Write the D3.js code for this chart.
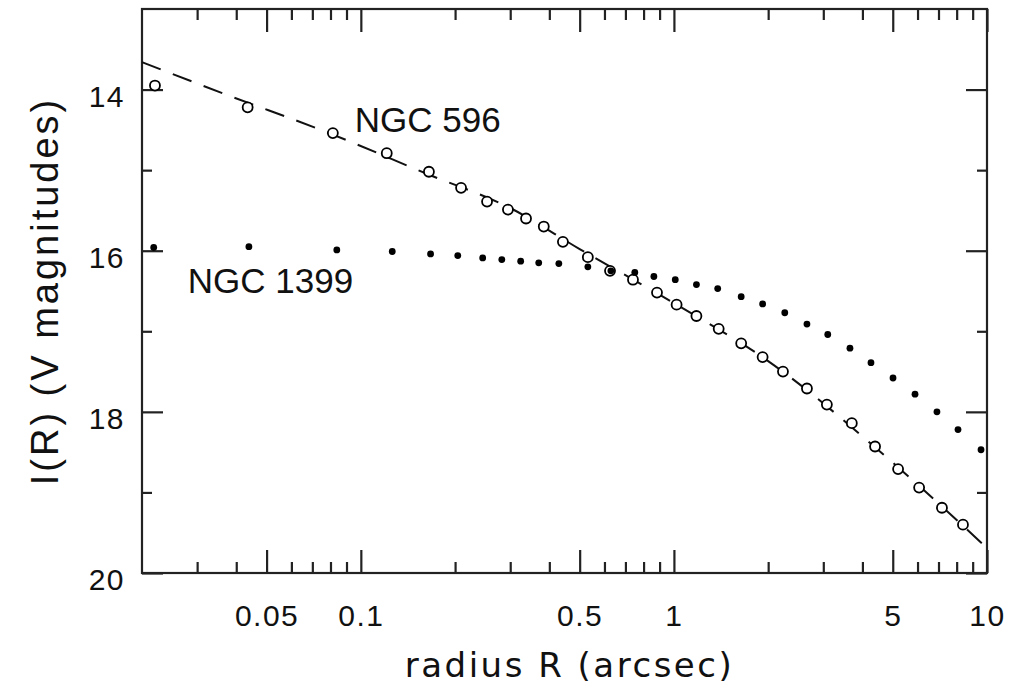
<!DOCTYPE html>
<html>
<head>
<meta charset="utf-8">
<script src="https://cdn.jsdelivr.net/npm/d3@7"></script>
<style>
  body { margin: 0; background: #fff; }
  svg text { font-family: "Liberation Sans", Arial, sans-serif; fill: #111; }
</style>
</head>
<body>
<script>
// tick values
const xMajor = [0.05, 0.1, 0.5, 1, 5, 10];
const xLabels = ["0.05", "0.1", "0.5", "1", "5", "10"];
const xMinor = [0.03, 0.04, 0.06, 0.07, 0.08, 0.09, 0.2, 0.3, 0.4, 0.6, 0.7, 0.8, 0.9, 2, 3, 4, 6, 7, 8, 9];
const yMajor = [14, 16, 18, 20];
const yMinor = [15, 17, 19];

// NGC 596 (open circles)
const r596 = [0.022, 0.0435, 0.0814, 0.121, 0.165, 0.209, 0.253, 0.295, 0.337, 0.384, 0.442, 0.531, 0.625, 0.740, 0.883,
  1.02, 1.18, 1.39, 1.64, 1.92, 2.23, 2.66, 3.08, 3.70, 4.39, 5.20, 6.07, 7.18, 8.38];
const mag596 = [13.95, 14.22, 14.54, 14.79, 15.02, 15.22, 15.39, 15.49, 15.60, 15.70, 15.89, 16.08, 16.25, 16.36, 16.52,
  16.67, 16.81, 16.97, 17.15, 17.32, 17.50, 17.71, 17.91, 18.14, 18.43, 18.71, 18.94, 19.19, 19.40];

// NGC 1399 (filled dots)
const r1399 = [0.0218, 0.0439, 0.0838, 0.126, 0.167, 0.204, 0.245, 0.282, 0.324, 0.370, 0.429, 0.531, 0.629, 0.750, 0.863,
  1.01, 1.18, 1.38, 1.64, 1.92, 2.26, 2.66, 3.10, 3.65, 4.26, 5.01, 5.89, 6.92, 8.08, 9.57];
const mag1399 = [15.96, 15.95, 15.99, 16.01, 16.04, 16.06, 16.09, 16.11, 16.13, 16.15, 16.16, 16.20, 16.25, 16.27, 16.32,
  16.36, 16.42, 16.47, 16.57, 16.66, 16.77, 16.91, 17.04, 17.21, 17.39, 17.58, 17.78, 18.00, 18.22, 18.47];

// dashed model curve for NGC 596
const rModel = [0.02, 0.0376, 0.078, 0.166, 0.3, 0.5, 1, 2, 5, 10];
const magModel = [13.66, 14.07, 14.53, 15.06, 15.47, 15.98, 16.65, 17.37, 18.63, 19.69];

const width = 1011, height = 691;
const plotLeft = 142, plotRight = 987, plotTop = 9, plotBottom = 573;

const svg = d3.select("body").append("svg")
  .attr("width", width).attr("height", height);

const x = d3.scaleLog().domain([0.02, 10]).range([plotLeft, plotRight]);
const y = d3.scaleLinear().domain([13, 20]).range([plotTop, plotBottom]);

const ink = "#222";

// ticks on all four sides
function ticks(axis, values, size, fmt) {
  return axis.tickValues(values).tickSizeInner(-size).tickSizeOuter(0).tickFormat(fmt || (() => ""));
}
function drawAxis(transform, axisGen) {
  const g = svg.append("g").attr("transform", transform).call(axisGen);
  g.select(".domain").remove();
  g.selectAll(".tick line").attr("stroke", ink).attr("stroke-width", 2.2);
  return g;
}

const xb = drawAxis(`translate(0,${plotBottom})`,
  ticks(d3.axisBottom(x), xMajor, 23, (d, i) => xLabels[i]).tickPadding(32));
xb.selectAll("text")
  .style("font-size", "30px").style("letter-spacing", "1.5px")
  .attr("fill", "#111");
drawAxis(`translate(0,${plotBottom})`, ticks(d3.axisBottom(x), xMinor, 11));
drawAxis(`translate(0,${plotTop})`, ticks(d3.axisTop(x), xMajor, 23));
drawAxis(`translate(0,${plotTop})`, ticks(d3.axisTop(x), xMinor, 11));

const yl = drawAxis(`translate(${plotLeft},0)`,
  ticks(d3.axisLeft(y), yMajor, 21, d => d).tickPadding(17));
yl.selectAll("text")
  .style("font-size", "30px").style("letter-spacing", "1.5px")
  .attr("dy", "0.55em").attr("fill", "#111");
drawAxis(`translate(${plotLeft},0)`, ticks(d3.axisLeft(y), yMinor, 10));
drawAxis(`translate(${plotRight},0)`, ticks(d3.axisRight(y), yMajor, 21));
drawAxis(`translate(${plotRight},0)`, ticks(d3.axisRight(y), yMinor, 10));

// frame
svg.append("rect")
  .attr("x", plotLeft).attr("y", plotTop)
  .attr("width", plotRight - plotLeft).attr("height", plotBottom - plotTop)
  .attr("fill", "none").attr("stroke", ink).attr("stroke-width", 2.2);

// model curve
const model = rModel.map((r, i) => [r, magModel[i]]);
svg.append("path")
  .attr("d", d3.line().x(d => x(d[0])).y(d => y(d[1])).curve(d3.curveMonotoneX)(model))
  .attr("fill", "none")
  .attr("stroke", "#111")
  .attr("stroke-width", 2)
  .attr("stroke-dasharray", "20,13");

// NGC 596 points
svg.selectAll(".dot596")
  .data(r596.map((r, i) => [r, mag596[i]]))
  .enter().append("circle")
  .attr("class", "dot596")
  .attr("cx", d => x(d[0]))
  .attr("cy", d => y(d[1]))
  .attr("r", 5)
  .attr("fill", "#fff")
  .attr("stroke", "#000")
  .attr("stroke-width", 1.8);

// NGC 1399 points
svg.selectAll(".dot1399")
  .data(r1399.map((r, i) => [r, mag1399[i]]))
  .enter().append("circle")
  .attr("class", "dot1399")
  .attr("cx", d => x(d[0]))
  .attr("cy", d => y(d[1]))
  .attr("r", 3.4)
  .attr("fill", "#000");

// galaxy labels
svg.append("text")
  .attr("x", x(0.0957)).attr("y", y(14.53))
  .style("font-size", "35px")
  .text("NGC 596");
svg.append("text")
  .attr("x", x(0.028)).attr("y", y(16.52))
  .style("font-size", "35px")
  .text("NGC 1399");

// axis titles
svg.append("text")
  .attr("text-anchor", "middle")
  .attr("x", (plotLeft + plotRight) / 2 + 5)
  .attr("y", 677)
  .style("font-family", "'DejaVu Sans', sans-serif")
  .style("font-size", "34px")
  .style("letter-spacing", "2.5px")
  .text("radius R (arcsec)");

svg.append("text")
  .attr("text-anchor", "middle")
  .attr("transform", `translate(58,${(plotTop + plotBottom) / 2}) rotate(-90)`)
  .style("font-size", "38px")
  .style("letter-spacing", "3px")
  .text("I(R)  (V magnitudes)");
</script>
</body>
</html>
